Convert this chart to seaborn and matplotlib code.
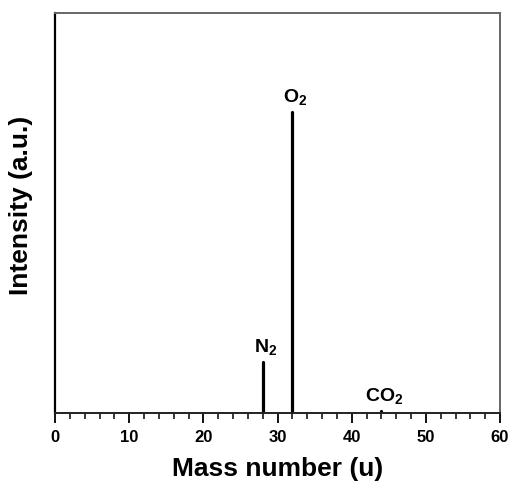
import numpy as np
import pandas as pd
import matplotlib
matplotlib.use("Agg")
import matplotlib.pyplot as plt
from matplotlib.ticker import MultipleLocator
import seaborn as sns

# peaks (intensity normalised to the axis height)
masses = [28, 32, 44]
intensities = [0.128, 0.752, 0.006]
labels = [r"$\mathbf{N_2}$", r"$\mathbf{O_2}$", r"$\mathbf{CO_2}$"]
xticks = [0, 10, 20, 30, 40, 50, 60]

sns.set_style("ticks")
plt.rcParams["font.family"] = ["Liberation Sans", "DejaVu Sans"]
plt.rcParams["font.weight"] = "bold"
plt.rcParams["text.color"] = "black"
plt.rcParams["axes.labelcolor"] = "black"
plt.rcParams["xtick.color"] = "black"
plt.rcParams["mathtext.fontset"] = "custom"
plt.rcParams["mathtext.rm"] = "Liberation Sans:bold"
plt.rcParams["mathtext.bf"] = "Liberation Sans:bold"

# stick spectrum: each peak is a line from 0 up to its intensity
rows = []
for i, (m, v) in enumerate(zip(masses, intensities)):
    rows.append({"peak": i, "mass": m, "intensity": 0.0})
    rows.append({"peak": i, "mass": m, "intensity": v})
df = pd.DataFrame(rows)

fig = plt.figure(figsize=(5.12, 4.82), dpi=100)
ax = fig.add_axes([55 / 512, 1 - 413 / 482, 445 / 512, 400 / 482])

sns.lineplot(data=df, x="mass", y="intensity", units="peak", estimator=None,
             sort=False, color="black", lw=2.3, ax=ax, legend=False)

for m, v, lab in zip(masses, intensities, labels):
    ax.annotate(lab, xy=(m, v), xytext=(2, 7), textcoords="offset points",
                ha="center", va="baseline", fontsize=14, fontweight="bold",
                color="black")

ax.set_xlim(0, 60)
ax.set_ylim(0, 1)
ax.set_xticks(xticks)
ax.xaxis.set_minor_locator(MultipleLocator(2))
ax.set_yticks([])
ax.tick_params(axis="x", which="major", direction="out", length=7, width=1.3,
               labelsize=12, pad=5, colors="black")
ax.tick_params(axis="x", which="minor", direction="out", length=4.3, width=1.1,
               colors="black")
for t in ax.get_xticklabels():
    t.set_fontweight("bold")

for side in ["top", "right"]:
    ax.spines[side].set_color("#666666")
    ax.spines[side].set_linewidth(1.4)
ax.spines["left"].set_color("black")
ax.spines["left"].set_linewidth(1.6)
ax.spines["bottom"].set_color("#222222")
ax.spines["bottom"].set_linewidth(1.4)

ax.set_xlabel("Mass number (u)", fontsize=19, fontweight="bold", labelpad=9)
ax.set_ylabel("Intensity (a.u.)", fontsize=19, fontweight="bold")
ax.yaxis.set_label_coords(-0.049, 0.52)

fig.savefig("out.png", dpi=100)
